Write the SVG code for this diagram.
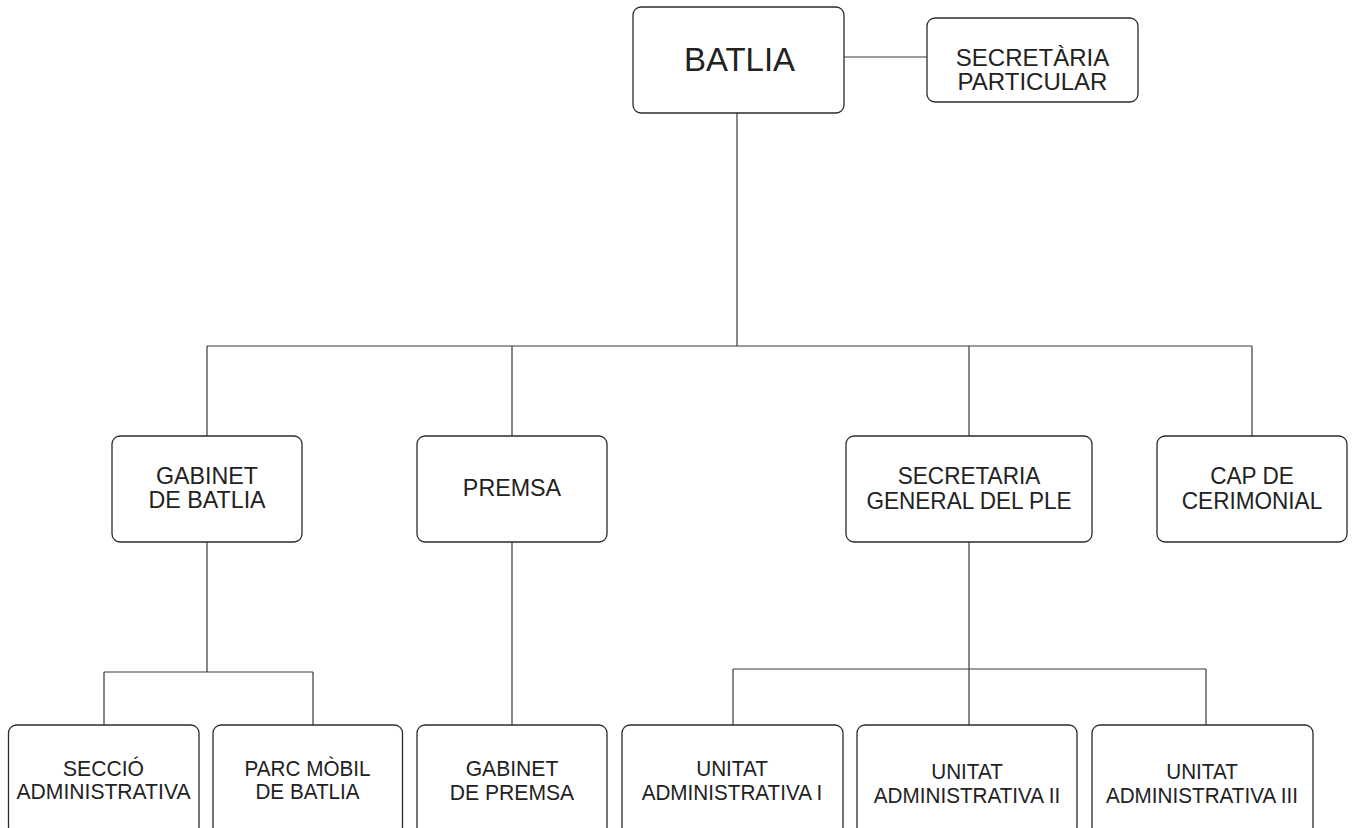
<svg xmlns="http://www.w3.org/2000/svg" width="1352" height="828" viewBox="0 0 1352 828">
<style>
.box{fill:#fff;stroke:#2b2b2b;stroke-width:1.3}
.t{font-family:"Liberation Sans",Arial,sans-serif;fill:#222;text-anchor:middle}
.t1{font-size:32px}
.t0{font-size:24px}
.t2{font-size:24px}
.t3{font-size:22px}
.c{stroke:#3a3a3a;stroke-width:1.2;fill:none}
</style>
<rect width="1352" height="828" fill="#fff"/>
<g id="connectors">
<path class="c" d="M844 57H927"/>
<path class="c" d="M737 113V346"/>
<path class="c" d="M207 346H1252"/>
<path class="c" d="M207 346V436M512 346V436M969 346V436M1252 346V436"/>
<path class="c" d="M207 542V672M104 672H313M104 672V725M313 672V725"/>
<path class="c" d="M512 542V725"/>
<path class="c" d="M969 542V725M733 669H1206M733 669V725M1206 669V725"/>
</g>
<g id="batlia"><rect class="box" x="633" y="7" width="211" height="106" rx="8"/><text class="t t1" transform="translate(739.5 0) scale(1.03 1.05)" x="0" y="68">BATLIA</text></g>
<g id="secretaria-particular"><rect class="box" x="927" y="18" width="211" height="84" rx="8"/><text class="t t0" x="1032.5" y="65.5">SECRETÀRIA</text><text class="t t0" x="1032.5" y="90">PARTICULAR</text></g>
<g id="gabinet-batlia"><rect class="box" x="112" y="436" width="190" height="106" rx="8"/><text class="t t2" transform="translate(207 0) scale(0.97 1)" x="0" y="484">GABINET</text><text class="t t2" transform="translate(207 0) scale(0.97 1)" x="0" y="508">DE BATLIA</text></g>
<g id="premsa"><rect class="box" x="417" y="436" width="190" height="106" rx="8"/><text class="t t2" transform="translate(512 0) scale(0.97 1)" x="0" y="496">PREMSA</text></g>
<g id="secretaria-general"><rect class="box" x="846" y="436" width="246" height="106" rx="8"/><text class="t t2" transform="translate(969 0) scale(0.94 1)" x="0" y="484">SECRETARIA</text><text class="t t2" transform="translate(969 0) scale(0.94 1)" x="0" y="509">GENERAL DEL PLE</text></g>
<g id="cap-cerimonial"><rect class="box" x="1157" y="436" width="190" height="106" rx="8"/><text class="t t2" transform="translate(1252 0) scale(0.94 1)" x="0" y="484">CAP DE</text><text class="t t2" transform="translate(1252 0) scale(0.94 1)" x="0" y="509">CERIMONIAL</text></g>
<g id="seccio-administrativa"><rect class="box" x="8.5" y="725" width="190.5" height="110" rx="8"/><text class="t t3" transform="translate(103.5 0) scale(0.96 1)" x="0" y="776">SECCIÓ</text><text class="t t3" transform="translate(103.5 0) scale(0.96 1)" x="0" y="799">ADMINISTRATIVA</text></g>
<g id="parc-mobil"><rect class="box" x="213" y="725" width="189.5" height="110" rx="8"/><text class="t t3" transform="translate(307.5 0) scale(0.94 1)" x="0" y="776">PARC MÒBIL</text><text class="t t3" transform="translate(307.5 0) scale(0.94 1)" x="0" y="799">DE BATLIA</text></g>
<g id="gabinet-premsa"><rect class="box" x="417" y="725" width="190" height="110" rx="8"/><text class="t t3" transform="translate(512 0) scale(0.96 1)" x="0" y="776">GABINET</text><text class="t t3" transform="translate(512 0) scale(0.96 1)" x="0" y="800">DE PREMSA</text></g>
<g id="unitat-1"><rect class="box" x="622" y="725" width="221" height="110" rx="8"/><text class="t t3" transform="translate(732 0) scale(0.94 1)" x="0" y="776">UNITAT</text><text class="t t3" transform="translate(732 0) scale(0.94 1)" x="0" y="800">ADMINISTRATIVA I</text></g>
<g id="unitat-2"><rect class="box" x="857" y="725" width="220" height="110" rx="8"/><text class="t t3" transform="translate(967 0) scale(0.94 1)" x="0" y="779">UNITAT</text><text class="t t3" transform="translate(967 0) scale(0.94 1)" x="0" y="803">ADMINISTRATIVA II</text></g>
<g id="unitat-3"><rect class="box" x="1092" y="725" width="221" height="110" rx="8"/><text class="t t3" transform="translate(1202 0) scale(0.94 1)" x="0" y="779">UNITAT</text><text class="t t3" transform="translate(1202 0) scale(0.94 1)" x="0" y="803">ADMINISTRATIVA III</text></g>
</svg>
